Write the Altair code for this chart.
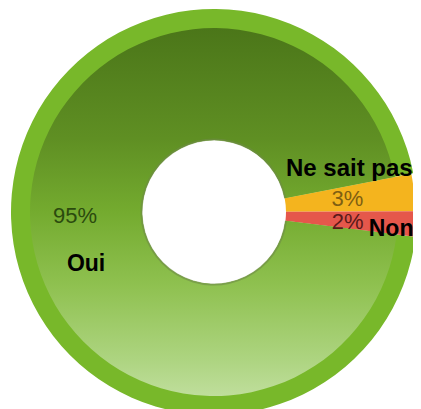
import math
import altair as alt
import pandas as pd

categories = ["Ne sait pas", "Non", "Oui"]
values = [3, 2, 95]
pct_labels = ["3%", "2%", "95%"]
slice_colors = ["#f4b41e", "#e5574b", "#78b82a"]

ends = []
acc = 0
for v in values:
    acc += v
    ends.append(acc)
starts = [e - v for e, v in zip(ends, values)]
df = pd.DataFrame({
    "cat": categories,
    "value": values,
    "pct": pct_labels,
    "start": starts,
    "end": ends,
    "mid": [(s + e) / 2 for s, e in zip(starts, ends)],
})

a0 = math.radians(79)
theta_scale = alt.Scale(domain=[0, 100], range=[a0, a0 + 2 * math.pi])
CX, CY = 206, 204

base = alt.Chart(df).encode(x=alt.value(CX), y=alt.value(CY))


def arcs(data_filter, **mark):
    return base.transform_filter(data_filter).mark_arc(**mark).encode(
        theta=alt.Theta("start:Q", scale=theta_scale),
        theta2="end:Q",
    )


color_scale = alt.Scale(domain=categories, range=slice_colors)

rim = arcs(alt.datum.cat == "Oui", innerRadius=72, outerRadius=203, fill="#78b82a")
small = arcs(alt.datum.cat != "Oui", innerRadius=72, outerRadius=201).encode(
    color=alt.Color("cat:N", scale=color_scale, legend=None)
)
grad = {
    "gradient": "linear",
    "x1": 0, "x2": 0, "y1": 0, "y2": 1,
    "stops": [
        {"offset": 0, "color": "#4b7619"},
        {"offset": 0.3, "color": "#5f8f23"},
        {"offset": 0.5, "color": "#74ab2f"},
        {"offset": 0.7, "color": "#8fc150"},
        {"offset": 0.9, "color": "#add480"},
        {"offset": 1, "color": "#bfde9c"},
    ],
}
inner = arcs(alt.datum.cat == "Oui", innerRadius=72, outerRadius=184, fill=grad)
hole_edge = arcs(alt.datum.cat == "Oui", innerRadius=71.5, outerRadius=73.5,
                 fill="#6e8a48", opacity=0.6)


def label(cat, field, r, dx, dy, size, bold, color, align="center"):
    return base.transform_filter(alt.datum.cat == cat).mark_text(
        radius=r, dx=dx, dy=dy, align=align, baseline="alphabetic",
        font="Liberation Sans", fontSize=size,
        fontWeight="bold" if bold else "normal", color=color,
    ).encode(
        theta=alt.Theta("mid:Q", scale=theta_scale),
        text=alt.Text(f"{field}:N"),
    )


texts = [
    label("Ne sait pas", "cat", 140, -4, -22, 24, True, "#000000"),
    label("Ne sait pas", "pct", 134, 0, 7, 22, False, "#7f5f12"),
    label("Non", "pct", 134, 0, 9, 22, False, "#5a1a1a"),
    label("Non", "cat", 160, -5, 15, 23, True, "#000000", align="left"),
    label("Oui", "pct", 139, 0, 6, 22, False, "#2b4a0e"),
    label("Oui", "cat", 128, 0, 55, 23, True, "#000000"),
]

chart = alt.layer(rim, small, inner, hole_edge, *texts).properties(
    width=405, height=401, padding=0, autosize="none",
).configure_view(stroke=None)

chart.save("out.html", embed_options={"renderer": "svg", "actions": False})
